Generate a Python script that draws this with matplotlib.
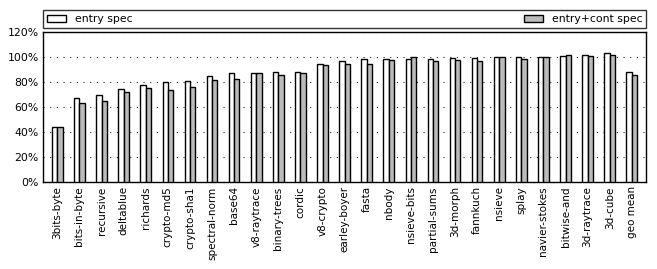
import matplotlib
matplotlib.use("Agg")
import matplotlib.pyplot as plt
import numpy as np

categories = ["3bits-byte", "bits-in-byte", "recursive", "deltablue", "richards",
              "crypto-md5", "crypto-sha1", "spectral-norm", "base64", "v8-raytrace",
              "binary-trees", "cordic", "v8-crypto", "earley-boyer", "fasta", "nbody",
              "nsieve-bits", "partial-sums", "3d-morph", "fannkuch", "nsieve", "splay",
              "navier-stokes", "bitwise-and", "3d-raytrace", "3d-cube", "geo mean"]
entry_spec = [44.4, 67.4, 69.8, 74.3, 77.3, 80.0, 81.0, 84.5, 87.2, 87.4,
              88.0, 88.0, 94.4, 96.5, 98.1, 98.1, 98.7, 98.7, 98.9, 99.2,
              99.7, 99.7, 100.0, 100.8, 101.3, 102.9, 88.0]
entry_cont_spec = [44.0, 63.4, 65.2, 71.9, 74.9, 73.5, 75.7, 81.3, 82.1, 86.9,
                   85.3, 87.2, 93.3, 94.1, 94.1, 97.9, 100.0, 96.8, 97.6, 96.8,
                   99.7, 98.7, 99.7, 101.6, 101.0, 101.9, 85.6]
yticks = [0, 20, 40, 60, 80, 100, 120]

fig = plt.figure(figsize=(6.57, 2.69), dpi=100)
ax = fig.add_axes([0.0655, 0.323, 0.918, 0.558])

x = np.arange(len(categories))
w = 0.24
b1 = ax.bar(x - w / 2, entry_spec, w, color="white", edgecolor="black", linewidth=1.0,
            label="entry spec", zorder=3)
b2 = ax.bar(x + w / 2, entry_cont_spec, w, color="#bbbbbb", edgecolor="black", linewidth=1.0,
            label="entry+cont spec", zorder=3)

ax.set_xlim(-0.65, len(categories) - 0.35)
ax.set_ylim(0, 120)
ax.set_yticks(yticks)
ax.set_yticklabels([f"{v}%" for v in yticks], fontsize=7.8)
ax.set_xticks(x)
ax.set_xticklabels(categories, rotation=90, fontsize=7.5)
ax.tick_params(axis="both", length=0, pad=3)
ax.yaxis.grid(True, linestyle=(0, (1, 5)), color="#222222", linewidth=0.8, zorder=0)
for s in ax.spines.values():
    s.set_linewidth(1.0)

fig.legend(handles=[b1, b2], loc="lower left", ncol=2, mode="expand",
           bbox_to_anchor=(0.0655, 0.896, 0.918, 0.071), fontsize=7.8,
           frameon=True, fancybox=False, edgecolor="black", borderaxespad=0,
           handlelength=1.8, handleheight=0.6, borderpad=0.35)
leg = fig.legends[0]
leg.get_frame().set_linewidth(1.0)

fig.savefig("out.png", dpi=100)
